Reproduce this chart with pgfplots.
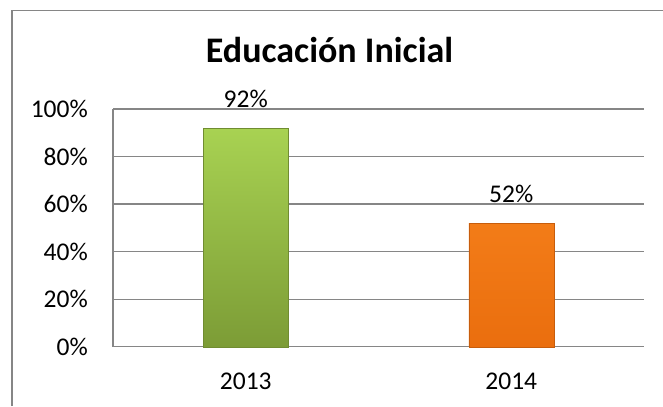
\documentclass[border=0pt]{standalone}
\usepackage{pgfplots}
\pgfplotsset{compat=1.18}
\usepackage{fontspec}
\setmainfont{Carlito}
\definecolor{gridgray}{RGB}{134,134,134}
\definecolor{gtop}{RGB}{168,210,82}
\definecolor{gbot}{RGB}{124,156,54}
\definecolor{otop}{RGB}{243,124,24}
\definecolor{obot}{RGB}{234,110,14}
\begin{document}
\begin{tikzpicture}[x=1bp,y=1bp]
\useasboundingbox (0,-406) rectangle (663,0);
\fill[white] (0,-406) rectangle (663,0);
\draw[gridgray, line width=1.5bp] (12,-406) -- (12,-10.7) -- (663,-10.7);
\node[anchor=base, font=\fontsize{36bp}{40bp}\selectfont\bfseries] at (329.5,-62.7) {Educación Inicial};
\begin{axis}[
  at={(113bp,-346.7bp)}, anchor=south west,
  scale only axis, width=531bp, height=237.7bp,
  xmin=-0.5, xmax=1.5, ymin=0, ymax=100,
  axis x line*=bottom, axis y line*=left,
  axis line style={gridgray, line width=1.2bp, -},
  ytick={0,20,40,60,80,100},
  yticklabels={0\%,20\%,40\%,60\%,80\%,100\%},
  xtick={0,1}, xticklabels={2013,2014},
  major tick length=0pt,
  ymajorgrids, grid style={gridgray, line width=1.2bp},
  tick label style={font=\fontsize{25.5bp}{30bp}\selectfont, inner sep=0pt},
  yticklabel style={anchor=east, xshift=-25bp},
  xticklabel style={anchor=north, yshift=-26bp},
  clip=false,
]
\addplot[ybar, bar width=85bp, draw=gbot!90!black, line width=0.4bp,
  shading=axis, top color=gtop, bottom color=gbot,
  point meta=explicit symbolic,
  nodes near coords={\pgfplotspointmeta\%},
  every node near coord/.style={anchor=south, inner sep=0pt, yshift=20bp, font=\fontsize{25.5bp}{30bp}\selectfont, black}]
  coordinates {(0,92) [92]};
\addplot[ybar, bar width=85bp, draw=obot!85!black, line width=0.4bp,
  shading=axis, top color=otop, bottom color=obot,
  point meta=explicit symbolic,
  nodes near coords={\pgfplotspointmeta\%},
  every node near coord/.style={anchor=south, inner sep=0pt, yshift=20bp, font=\fontsize{25.5bp}{30bp}\selectfont, black}]
  coordinates {(1,52) [52]};
\end{axis}
\end{tikzpicture}
\end{document}
